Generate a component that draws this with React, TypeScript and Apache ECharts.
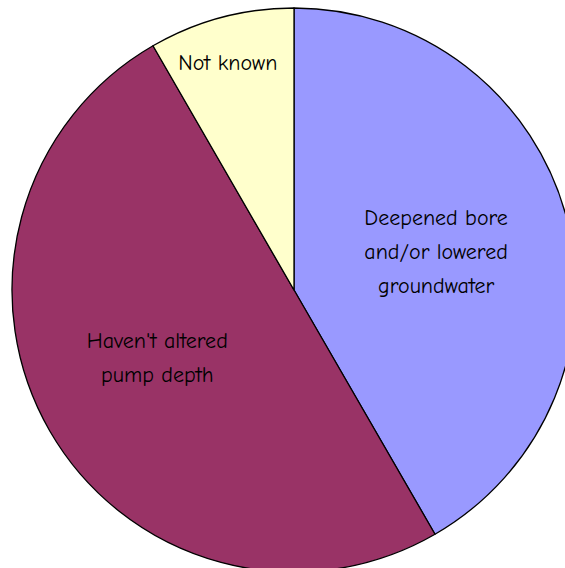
import React, { useEffect, useRef } from "react";
import * as echarts from "echarts";

// Responses about pump depth changes
const categories = [
  "Deepened bore\nand/or lowered\ngroundwater",
  "Haven't altered\npump depth",
  "Not known",
];
const counts = [5, 6, 1];
const colors = ["#9999FF", "#993366", "#FFFFCC"];

// Nudges applied to each inside label
const labelShift: [number, number][] = [
  [3, -1],
  [-12, -4],
  [-29, -88],
];

export default function App() {
  const ref = useRef<HTMLDivElement>(null);

  useEffect(() => {
    if (!ref.current) return;
    const chart = echarts.init(ref.current, undefined, { renderer: "svg" });
    chart.setOption({
      animation: false,
      backgroundColor: "#ffffff",
      series: [
        {
          type: "pie",
          center: [294, 290],
          radius: 282,
          startAngle: 90,
          clockwise: true,
          silent: true,
          data: categories.map((name, i) => ({
            name,
            value: counts[i],
            itemStyle: { color: colors[i] },
          })),
          itemStyle: { borderColor: "#000000", borderWidth: 1.3 },
          label: {
            show: true,
            position: "inside",
            formatter: "{b}",
            color: "#000000",
            fontFamily: "'Comic Sans MS', 'Comic Neue', 'DejaVu Sans', sans-serif",
            fontSize: 22,
            lineHeight: 34,
            align: "center",
          },
          labelLine: { show: false },
          labelLayout: (params: any) => {
            const s = labelShift[params.dataIndex] || [0, 0];
            return { dx: s[0], dy: s[1] };
          },
        },
      ],
    });
    return () => chart.dispose();
  }, []);

  return (
    <div
      ref={ref}
      style={{ position: "absolute", left: 0, top: 0, width: 565, height: 568 }}
    />
  );
}
